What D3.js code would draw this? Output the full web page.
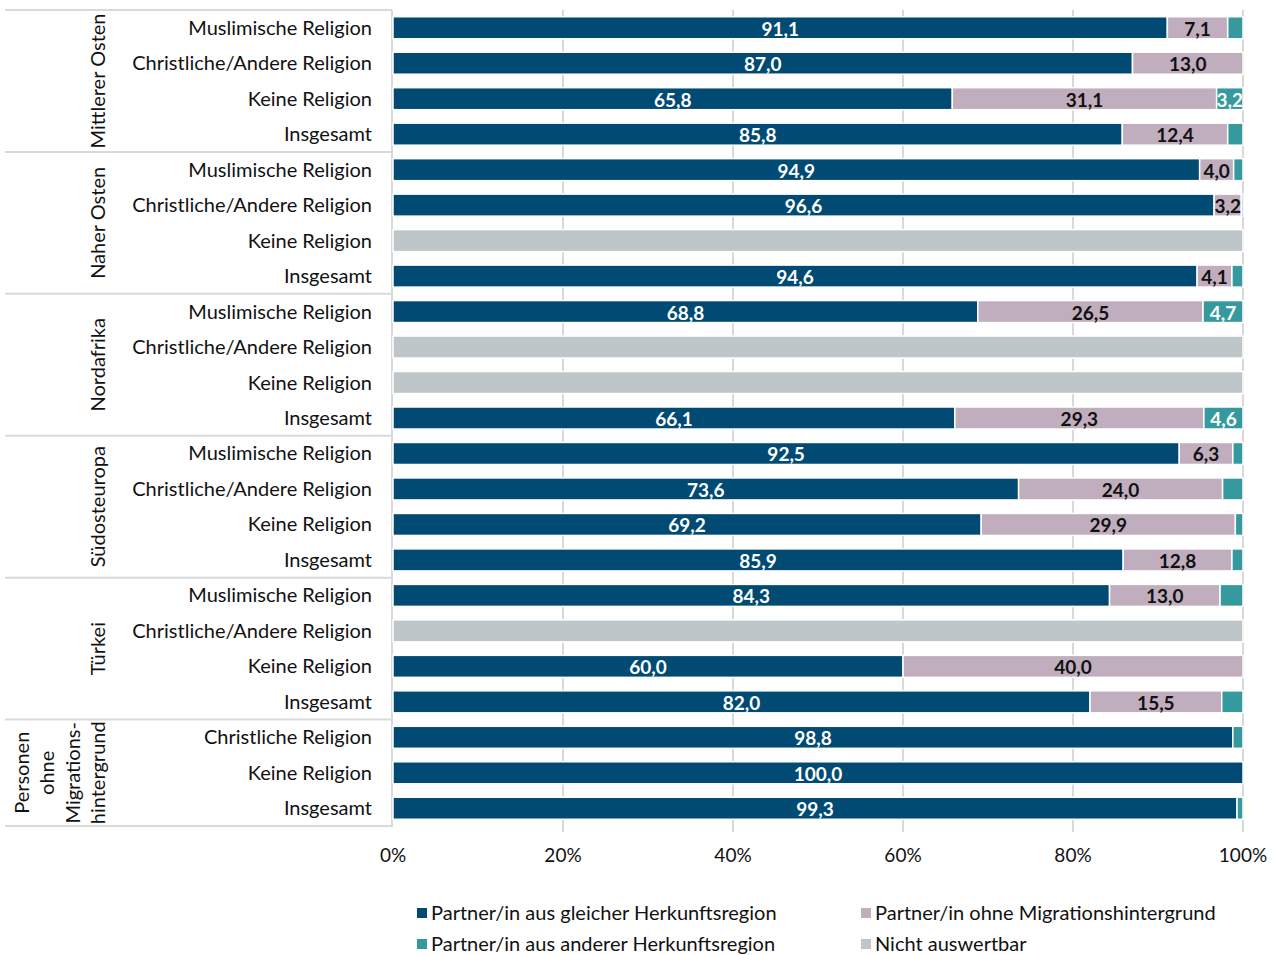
<!DOCTYPE html>
<html><head><meta charset="utf-8">
<script src="https://cdn.jsdelivr.net/npm/d3@7"></script>
<style>body{margin:0;background:#fff}svg{display:block}text{font-family:Lato,"Noto Sans",sans-serif}</style>
</head><body>
<script>
const groupNames = ["Mittlerer Osten","Naher Osten","Nordafrika","Südosteuropa","Türkei","Personen ohne Migrations- hintergrund"];
const groupLines = [["Mittlerer Osten"],["Naher Osten"],["Nordafrika"],["Südosteuropa"],["Türkei"],["Personen","ohne","Migrations-","hintergrund"]];
const rowGroup = [0,0,0,0, 1,1,1,1, 2,2,2,2, 3,3,3,3, 4,4,4,4, 5,5,5];
const rowLabels = ["Muslimische Religion","Christliche/Andere Religion","Keine Religion","Insgesamt",
 "Muslimische Religion","Christliche/Andere Religion","Keine Religion","Insgesamt",
 "Muslimische Religion","Christliche/Andere Religion","Keine Religion","Insgesamt",
 "Muslimische Religion","Christliche/Andere Religion","Keine Religion","Insgesamt",
 "Muslimische Religion","Christliche/Andere Religion","Keine Religion","Insgesamt",
 "Christliche Religion","Keine Religion","Insgesamt"];
const gleich  = [91.1,87.0,65.8,85.8, 94.9,96.6,0,94.6, 68.8,0,0,66.1, 92.5,73.6,69.2,85.9, 84.3,0,60.0,82.0, 98.8,100.0,99.3];
const ohne    = [7.1,13.0,31.1,12.4, 4.0,3.2,0,4.1, 26.5,0,0,29.3, 6.3,24.0,29.9,12.8, 13.0,0,40.0,15.5, 0,0,0];
const andere  = [1.8,0,3.2,1.8, 1.1,0.2,0,1.3, 4.7,0,0,4.6, 1.2,2.4,0.9,1.3, 2.7,0,0,2.5, 1.2,0,0.7];
const nicht   = [0,0,0,0, 0,0,100,0, 0,100,100,0, 0,0,0,0, 0,100,0,0, 0,0,0];
const seriesNames = ["Partner/in aus gleicher Herkunftsregion","Partner/in ohne Migrationshintergrund","Partner/in aus anderer Herkunftsregion","Nicht auswertbar"];
const seriesColors = ["#004a73","#c0adbd","#35999d","#bfc6c9"];
const labelColors = ["#fff","#111","#fff","#111"];
const xTicks = [0,20,40,60,80,100];

const W=1275,H=955;
const svg=d3.select("body").append("svg").attr("width",W).attr("height",H);
const x=d3.scaleLinear().domain([0,100]).range([393,1243]);
const y=d3.scaleBand().domain(d3.range(rowLabels.length)).range([10,826]).paddingInner(0.38).paddingOuter(0.19);
const step=y.step();

// gridlines
svg.append("g").selectAll("line").data(xTicks.slice(1)).join("line")
 .attr("x1",d=>x(d)).attr("x2",d=>x(d)).attr("y1",10).attr("y2",832)
 .attr("stroke","#d9d9d9").attr("stroke-width",2);

// group separators
const bounds=[0];
rowGroup.forEach((g,i)=>{ if(i>0 && g!==rowGroup[i-1]) bounds.push(i); });
bounds.push(rowLabels.length);
svg.append("g").selectAll("line").data(bounds).join("line")
 .attr("x1",5).attr("x2",392).attr("y1",d=>10+d*step).attr("y2",d=>10+d*step)
 .attr("stroke","#d9d9d9").attr("stroke-width",2);
svg.append("line").attr("x1",392).attr("x2",392).attr("y1",10).attr("y2",827).attr("stroke","#d9d9d9").attr("stroke-width",2);

// bars
const series=[gleich,ohne,andere,nicht];
const rows=rowLabels.map((l,i)=>{let c=0;return series.map((s,k)=>{const o={k,i,v:s[i],x0:c,x1:c+s[i]};c+=s[i];return o;});});
const segs=rows.flat().filter(d=>d.v>0);
svg.append("g").selectAll("rect").data(segs).join("rect")
 .attr("x",d=>x(d.x0)).attr("width",d=>Math.max(0,Math.min(x(d.x1),x(100))-x(d.x0)))
 .attr("y",d=>y(d.i)).attr("height",y.bandwidth())
 .attr("fill",d=>seriesColors[d.k]).attr("stroke","#fff").attr("stroke-width",1.5);
svg.append("g").selectAll("text").data(segs.filter(d=>d.k<3 && d.v>=3)).join("text")
 .attr("x",d=>(x(d.x0)+Math.min(x(d.x1),x(100)))/2).attr("y",d=>y(d.i)+y.bandwidth()/2+8)
 .attr("text-anchor","middle").attr("font-size",19).attr("font-weight","bold")
 .attr("fill",d=>labelColors[d.k]).text(d=>d.v.toFixed(1).replace(".",","));

// row labels
svg.append("g").selectAll("text").data(rowLabels).join("text")
 .attr("x",372).attr("y",(d,i)=>y(i)+y.bandwidth()/2+7).attr("text-anchor","end")
 .attr("font-size",20).attr("fill","#111").text(d=>d);

// group labels
groupLines.forEach((lines,g)=>{
 const idx=rowGroup.map((r,i)=>r===g?i:-1).filter(i=>i>=0);
 const cy=10+(idx[0]+idx[idx.length-1]+1)/2*step;
 const n=lines.length, lh=25.5;
 lines.forEach((t,j)=>{
  const cx=98-(n-1-j)*lh;
  svg.append("text").attr("transform",`translate(${cx+7},${cy}) rotate(-90)`)
   .attr("text-anchor","middle").attr("font-size",20).attr("fill","#111").text(t);
 });
});

// x axis labels
svg.append("g").selectAll("text").data(xTicks).join("text")
 .attr("x",d=>x(d)).attr("y",862).attr("text-anchor","middle").attr("font-size",19).attr("fill","#111")
 .text(d=>d+"%");

// legend
const lp=[[417,913],[861,913],[417,944],[861,944]];
const lg=svg.append("g").selectAll("g").data(seriesNames).join("g").attr("transform",(d,i)=>`translate(${lp[i][0]},${lp[i][1]})`);
lg.append("rect").attr("x",0).attr("y",-5).attr("width",10).attr("height",10).attr("fill",(d,i)=>seriesColors[i]);
lg.append("text").attr("x",14).attr("y",7).attr("font-size",20).attr("fill","#111").text(d=>d);
</script>
</body></html>
